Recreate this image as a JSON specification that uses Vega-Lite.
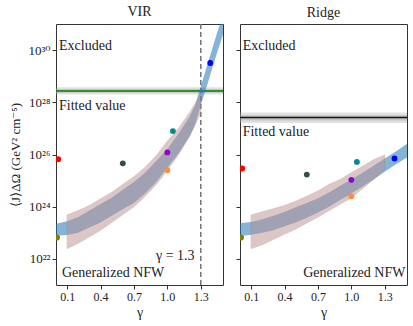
{
  "$schema": "https://vega.github.io/schema/vega-lite/v6.json",
  "padding": {"left": 9, "top": 4, "right": 3, "bottom": 4},
  "config": {
    "font": "Liberation Serif, DejaVu Serif, serif",
    "view": {"stroke": "#333", "strokeWidth": 1},
    "axis": {"grid": false, "domain": false, "tickColor": "#333", "tickSize": 4, "labelColor": "#222", "titleColor": "#222", "labelFontSize": 12, "titleFontSize": 13, "labelFont": "Liberation Serif, DejaVu Serif, serif", "titleFont": "Liberation Serif, DejaVu Serif, serif", "titleFontWeight": "normal", "labelPadding": 2},
    "title": {"font": "Liberation Serif, DejaVu Serif, serif", "fontSize": 14, "fontWeight": "normal", "offset": 4, "color": "#222"},
    "text": {"font": "Liberation Serif, DejaVu Serif, serif"},
    "concat": {"spacing": 10}
  },
  "datasets": {
    "bands": [
      {"panel": "VIR", "band": "blue", "gamma": 0.0, "lo": 7.9e22, "hi": 2.2e23},
      {"panel": "VIR", "band": "blue", "gamma": 0.1, "lo": 8.3e22, "hi": 2.8e23},
      {"panel": "VIR", "band": "blue", "gamma": 0.2, "lo": 1.0e23, "hi": 4.0e23},
      {"panel": "VIR", "band": "blue", "gamma": 0.3, "lo": 1.6e23, "hi": 7.1e23},
      {"panel": "VIR", "band": "blue", "gamma": 0.4, "lo": 2.5e23, "hi": 1.26e24},
      {"panel": "VIR", "band": "blue", "gamma": 0.5, "lo": 4.5e23, "hi": 2.2e24},
      {"panel": "VIR", "band": "blue", "gamma": 0.6, "lo": 7.9e23, "hi": 4.5e24},
      {"panel": "VIR", "band": "blue", "gamma": 0.7, "lo": 1.4e24, "hi": 8.9e24},
      {"panel": "VIR", "band": "blue", "gamma": 0.8, "lo": 3.2e24, "hi": 2.0e25},
      {"panel": "VIR", "band": "blue", "gamma": 0.9, "lo": 8.9e24, "hi": 5.6e25},
      {"panel": "VIR", "band": "blue", "gamma": 1.0, "lo": 3.2e25, "hi": 1.6e26},
      {"panel": "VIR", "band": "blue", "gamma": 1.1, "lo": 1.1e26, "hi": 6.3e26},
      {"panel": "VIR", "band": "blue", "gamma": 1.2, "lo": 5.0e26, "hi": 2.8e27},
      {"panel": "VIR", "band": "blue", "gamma": 1.25, "lo": 1.4e27, "hi": 7.9e27},
      {"panel": "VIR", "band": "blue", "gamma": 1.3, "lo": 7.9e27, "hi": 4.0e28},
      {"panel": "VIR", "band": "blue", "gamma": 1.35, "lo": 3.5e28, "hi": 2.0e29},
      {"panel": "VIR", "band": "blue", "gamma": 1.4, "lo": 1.8e29, "hi": 1.0e30},
      {"panel": "VIR", "band": "blue", "gamma": 1.45, "lo": 8.9e29, "hi": 5.0e30},
      {"panel": "VIR", "band": "blue", "gamma": 1.5, "lo": 4.0e30, "hi": 2.2e31},
      {"panel": "VIR", "band": "pink", "gamma": 0.1, "lo": 2.5e22, "hi": 4.8e23},
      {"panel": "VIR", "band": "pink", "gamma": 0.2, "lo": 4.0e22, "hi": 7.1e23},
      {"panel": "VIR", "band": "pink", "gamma": 0.3, "lo": 7.1e22, "hi": 1.1e24},
      {"panel": "VIR", "band": "pink", "gamma": 0.4, "lo": 1.26e23, "hi": 2.0e24},
      {"panel": "VIR", "band": "pink", "gamma": 0.5, "lo": 2.5e23, "hi": 3.5e24},
      {"panel": "VIR", "band": "pink", "gamma": 0.6, "lo": 5.0e23, "hi": 7.1e24},
      {"panel": "VIR", "band": "pink", "gamma": 0.7, "lo": 1.0e24, "hi": 1.4e25},
      {"panel": "VIR", "band": "pink", "gamma": 0.8, "lo": 2.5e24, "hi": 3.2e25},
      {"panel": "VIR", "band": "pink", "gamma": 0.9, "lo": 7.1e24, "hi": 8.9e25},
      {"panel": "VIR", "band": "pink", "gamma": 1.0, "lo": 2.5e25, "hi": 3.2e26},
      {"panel": "VIR", "band": "pink", "gamma": 1.1, "lo": 1.0e26, "hi": 1.0e27},
      {"panel": "VIR", "band": "pink", "gamma": 1.2, "lo": 5.0e26, "hi": 4.0e27},
      {"panel": "VIR", "band": "pink", "gamma": 1.3, "lo": 4.0e27, "hi": 2.0e28},
      {"panel": "Ridge", "band": "blue", "gamma": 0.0, "lo": 7.6e22, "hi": 2.3e23},
      {"panel": "Ridge", "band": "blue", "gamma": 0.1, "lo": 8.5e22, "hi": 2.6e23},
      {"panel": "Ridge", "band": "blue", "gamma": 0.2, "lo": 1.0e23, "hi": 3.3e23},
      {"panel": "Ridge", "band": "blue", "gamma": 0.3, "lo": 1.26e23, "hi": 4.5e23},
      {"panel": "Ridge", "band": "blue", "gamma": 0.4, "lo": 1.8e23, "hi": 6.3e23},
      {"panel": "Ridge", "band": "blue", "gamma": 0.5, "lo": 2.5e23, "hi": 9.5e23},
      {"panel": "Ridge", "band": "blue", "gamma": 0.6, "lo": 3.8e23, "hi": 1.4e24},
      {"panel": "Ridge", "band": "blue", "gamma": 0.7, "lo": 6.0e23, "hi": 2.1e24},
      {"panel": "Ridge", "band": "blue", "gamma": 0.8, "lo": 1.0e24, "hi": 3.5e24},
      {"panel": "Ridge", "band": "blue", "gamma": 0.9, "lo": 1.8e24, "hi": 6.3e24},
      {"panel": "Ridge", "band": "blue", "gamma": 1.0, "lo": 3.2e24, "hi": 1.1e25},
      {"panel": "Ridge", "band": "blue", "gamma": 1.1, "lo": 5.9e24, "hi": 2.0e25},
      {"panel": "Ridge", "band": "blue", "gamma": 1.2, "lo": 1.1e25, "hi": 3.7e25},
      {"panel": "Ridge", "band": "blue", "gamma": 1.3, "lo": 2.2e25, "hi": 7.1e25},
      {"panel": "Ridge", "band": "blue", "gamma": 1.4, "lo": 4.2e25, "hi": 1.3e26},
      {"panel": "Ridge", "band": "blue", "gamma": 1.5, "lo": 7.6e25, "hi": 2.6e26},
      {"panel": "Ridge", "band": "pink", "gamma": 0.1, "lo": 2.5e22, "hi": 4.8e23},
      {"panel": "Ridge", "band": "pink", "gamma": 0.2, "lo": 3.5e22, "hi": 6.3e23},
      {"panel": "Ridge", "band": "pink", "gamma": 0.3, "lo": 5.6e22, "hi": 8.3e23},
      {"panel": "Ridge", "band": "pink", "gamma": 0.4, "lo": 8.9e22, "hi": 1.1e24},
      {"panel": "Ridge", "band": "pink", "gamma": 0.5, "lo": 1.4e23, "hi": 1.6e24},
      {"panel": "Ridge", "band": "pink", "gamma": 0.6, "lo": 2.4e23, "hi": 2.5e24},
      {"panel": "Ridge", "band": "pink", "gamma": 0.7, "lo": 4.0e23, "hi": 4.0e24},
      {"panel": "Ridge", "band": "pink", "gamma": 0.8, "lo": 7.1e23, "hi": 7.1e24},
      {"panel": "Ridge", "band": "pink", "gamma": 0.9, "lo": 1.26e24, "hi": 1.1e25},
      {"panel": "Ridge", "band": "pink", "gamma": 1.0, "lo": 2.2e24, "hi": 2.0e25},
      {"panel": "Ridge", "band": "pink", "gamma": 1.1, "lo": 5.0e24, "hi": 3.5e25},
      {"panel": "Ridge", "band": "pink", "gamma": 1.2, "lo": 1.1e25, "hi": 6.3e25},
      {"panel": "Ridge", "band": "pink", "gamma": 1.3, "lo": 2.8e25, "hi": 9.5e25}
    ],
    "points": [
      {"panel": "VIR", "source": "red", "gamma": 0.02, "J": 6.6e25},
      {"panel": "VIR", "source": "olive", "gamma": 0.01, "J": 6.6e22},
      {"panel": "VIR", "source": "slate", "gamma": 0.6, "J": 4.6e25},
      {"panel": "VIR", "source": "teal", "gamma": 1.05, "J": 7.9e26},
      {"panel": "VIR", "source": "violet", "gamma": 1.0, "J": 1.2e26},
      {"panel": "VIR", "source": "orange", "gamma": 1.0, "J": 2.5e25},
      {"panel": "VIR", "source": "blue", "gamma": 1.385, "J": 3.2e29},
      {"panel": "Ridge", "source": "red", "gamma": 0.02, "J": 2.9e25},
      {"panel": "Ridge", "source": "olive", "gamma": 0.01, "J": 6.6e22},
      {"panel": "Ridge", "source": "slate", "gamma": 0.6, "J": 1.7e25},
      {"panel": "Ridge", "source": "teal", "gamma": 1.05, "J": 5.2e25},
      {"panel": "Ridge", "source": "violet", "gamma": 1.0, "J": 1.07e25},
      {"panel": "Ridge", "source": "orange", "gamma": 1.0, "J": 2.5e24},
      {"panel": "Ridge", "source": "blue", "gamma": 1.388, "J": 7.1e25}
    ],
    "fit": [
      {"panel": "VIR", "J": 2.7e28, "in_lo": 2.3e28, "in_hi": 3.2e28, "out_lo": 2.0e28, "out_hi": 3.8e28},
      {"panel": "Ridge", "J": 2.6e27, "in_lo": 2.0e27, "in_hi": 3.2e27, "out_lo": 1.6e27, "out_hi": 4.1e27}
    ],
    "labels": [
      {"panel": "VIR", "text": "Excluded", "gamma": 0.027, "J": 1.4e30},
      {"panel": "VIR", "text": "Fitted value", "gamma": 0.027, "J": 7.0e27},
      {"panel": "VIR", "text": "Generalized NFW", "gamma": 0.054, "J": 2.8e21},
      {"panel": "VIR", "text": "γ = 1.3", "gamma": 1.245, "J": 1.3e22},
      {"panel": "Ridge", "text": "Excluded", "gamma": 0.024, "J": 1.4e30},
      {"panel": "Ridge", "text": "Fitted value", "gamma": 0.024, "J": 7.4e26},
      {"panel": "Ridge", "text": "Generalized NFW", "gamma": 1.486, "J": 2.8e21}
    ]
  },
  "hconcat": [
    {
      "title": "VIR",
      "width": 167,
      "height": 261,
      "layer": [
        {
          "data": {"name": "fit"},
          "transform": [{"filter": "datum.panel === 'VIR'"}],
          "mark": {"type": "rect", "color": "#aaaaaa", "opacity": 0.35},
          "encoding": {
            "y": {"field": "out_lo", "type": "quantitative",
              "scale": {"type": "log", "domain": [1e21, 1e31], "nice": false},
              "axis": {"values": [1e22, 1e24, 1e26, 1e28, 1e30], "title": "⟨J⟩ΔΩ (GeV² cm⁻⁵)", "titlePadding": 5, "labelFontSize": 13,
                "labelExpr": "datum.value > 1e29 ? '10³⁰' : datum.value > 1e27 ? '10²⁸' : datum.value > 1e25 ? '10²⁶' : datum.value > 1e23 ? '10²⁴' : '10²²'"}},
            "y2": {"field": "out_hi"}
          }
        },
        {
          "data": {"name": "fit"},
          "transform": [{"filter": "datum.panel === 'VIR'"}],
          "mark": {"type": "rect", "color": "#999999", "opacity": 0.4},
          "encoding": {"y": {"field": "in_lo", "type": "quantitative"}, "y2": {"field": "in_hi"}}
        },
        {
          "data": {"name": "fit"},
          "transform": [{"filter": "datum.panel === 'VIR'"}],
          "mark": {"type": "rule", "color": "#008000", "strokeWidth": 1.5},
          "encoding": {"y": {"field": "J", "type": "quantitative"}}
        },
        {
          "data": {"name": "fit"},
          "mark": {"type": "rule", "color": "#777777", "strokeWidth": 1.2, "strokeDash": [5, 3]},
          "encoding": {"x": {"datum": 1.3, "type": "quantitative"}}
        },
        {
          "data": {"name": "bands"},
          "transform": [{"filter": "datum.panel === 'VIR' && datum.band === 'blue'"}],
          "mark": {"type": "area", "color": "#1f77b4", "opacity": 0.55, "clip": true},
          "encoding": {
            "x": {"field": "gamma", "type": "quantitative",
              "scale": {"domain": [0, 1.5], "nice": false, "zero": false},
              "axis": {"values": [0.1, 0.4, 0.7, 1.0, 1.3], "format": ".1f", "title": "γ", "titleFontSize": 14, "titlePadding": 3}},
            "y": {"field": "lo", "type": "quantitative"},
            "y2": {"field": "hi"}
          }
        },
        {
          "data": {"name": "bands"},
          "transform": [{"filter": "datum.panel === 'VIR' && datum.band === 'pink'"}],
          "mark": {"type": "area", "color": "#bc8f8f", "opacity": 0.5, "clip": true, "stroke": "#b07f7f", "strokeWidth": 0.8},
          "encoding": {
            "x": {"field": "gamma", "type": "quantitative"},
            "y": {"field": "lo", "type": "quantitative"},
            "y2": {"field": "hi"}
          }
        },
        {
          "data": {"name": "points"},
          "transform": [{"filter": "datum.panel === 'VIR'"}],
          "mark": {"type": "circle", "size": 34, "opacity": 1, "clip": true},
          "encoding": {
            "x": {"field": "gamma", "type": "quantitative"},
            "y": {"field": "J", "type": "quantitative"},
            "color": {"field": "source", "type": "nominal", "legend": null,
              "scale": {"domain": ["red", "olive", "slate", "teal", "violet", "orange", "blue"],
                "range": ["#ff0000", "#808000", "#2f4f4f", "#008b8b", "#9400d3", "#ff8c42", "#0000ff"]}}
          }
        },
        {
          "data": {"name": "labels"},
          "transform": [{"filter": "datum.panel === 'VIR' && datum.gamma < 0.5"}],
          "mark": {"type": "text", "align": "left", "baseline": "middle", "fontSize": 14, "color": "#222", "font": "Liberation Serif, DejaVu Serif, serif"},
          "encoding": {
            "x": {"field": "gamma", "type": "quantitative"},
            "y": {"field": "J", "type": "quantitative"},
            "text": {"field": "text"}
          }
        },
        {
          "data": {"name": "labels"},
          "transform": [{"filter": "datum.panel === 'VIR' && datum.gamma >= 0.5"}],
          "mark": {"type": "text", "align": "right", "baseline": "middle", "fontSize": 14, "color": "#222", "font": "Liberation Serif, DejaVu Serif, serif"},
          "encoding": {
            "x": {"field": "gamma", "type": "quantitative"},
            "y": {"field": "J", "type": "quantitative"},
            "text": {"field": "text"}
          }
        }
      ]
    },
    {
      "title": "Ridge",
      "width": 167,
      "height": 261,
      "layer": [
        {
          "data": {"name": "fit"},
          "transform": [{"filter": "datum.panel === 'Ridge'"}],
          "mark": {"type": "rect", "color": "#aaaaaa", "opacity": 0.35},
          "encoding": {
            "y": {"field": "out_lo", "type": "quantitative",
              "scale": {"type": "log", "domain": [1e21, 1e31], "nice": false},
              "axis": {"values": [1e22, 1e24, 1e26, 1e28, 1e30], "labels": false, "title": null}},
            "y2": {"field": "out_hi"}
          }
        },
        {
          "data": {"name": "fit"},
          "transform": [{"filter": "datum.panel === 'Ridge'"}],
          "mark": {"type": "rect", "color": "#999999", "opacity": 0.4},
          "encoding": {"y": {"field": "in_lo", "type": "quantitative"}, "y2": {"field": "in_hi"}}
        },
        {
          "data": {"name": "fit"},
          "transform": [{"filter": "datum.panel === 'Ridge'"}],
          "mark": {"type": "rule", "color": "#111111", "strokeWidth": 1.5},
          "encoding": {"y": {"field": "J", "type": "quantitative"}}
        },
        {
          "data": {"name": "bands"},
          "transform": [{"filter": "datum.panel === 'Ridge' && datum.band === 'blue'"}],
          "mark": {"type": "area", "color": "#1f77b4", "opacity": 0.55, "clip": true},
          "encoding": {
            "x": {"field": "gamma", "type": "quantitative",
              "scale": {"domain": [0, 1.5], "nice": false, "zero": false},
              "axis": {"values": [0.1, 0.4, 0.7, 1.0, 1.3], "format": ".1f", "title": "γ", "titleFontSize": 14, "titlePadding": 3}},
            "y": {"field": "lo", "type": "quantitative"},
            "y2": {"field": "hi"}
          }
        },
        {
          "data": {"name": "bands"},
          "transform": [{"filter": "datum.panel === 'Ridge' && datum.band === 'pink'"}],
          "mark": {"type": "area", "color": "#bc8f8f", "opacity": 0.5, "clip": true, "stroke": "#b07f7f", "strokeWidth": 0.8},
          "encoding": {
            "x": {"field": "gamma", "type": "quantitative"},
            "y": {"field": "lo", "type": "quantitative"},
            "y2": {"field": "hi"}
          }
        },
        {
          "data": {"name": "points"},
          "transform": [{"filter": "datum.panel === 'Ridge'"}],
          "mark": {"type": "circle", "size": 34, "opacity": 1, "clip": true},
          "encoding": {
            "x": {"field": "gamma", "type": "quantitative"},
            "y": {"field": "J", "type": "quantitative"},
            "color": {"field": "source", "type": "nominal", "legend": null,
              "scale": {"domain": ["red", "olive", "slate", "teal", "violet", "orange", "blue"],
                "range": ["#ff0000", "#808000", "#2f4f4f", "#008b8b", "#9400d3", "#ff8c42", "#0000ff"]}}
          }
        },
        {
          "data": {"name": "labels"},
          "transform": [{"filter": "datum.panel === 'Ridge' && datum.gamma < 0.5"}],
          "mark": {"type": "text", "align": "left", "baseline": "middle", "fontSize": 14, "color": "#222", "font": "Liberation Serif, DejaVu Serif, serif"},
          "encoding": {
            "x": {"field": "gamma", "type": "quantitative"},
            "y": {"field": "J", "type": "quantitative"},
            "text": {"field": "text"}
          }
        },
        {
          "data": {"name": "labels"},
          "transform": [{"filter": "datum.panel === 'Ridge' && datum.gamma >= 0.5"}],
          "mark": {"type": "text", "align": "right", "baseline": "middle", "fontSize": 14, "color": "#222", "font": "Liberation Serif, DejaVu Serif, serif"},
          "encoding": {
            "x": {"field": "gamma", "type": "quantitative"},
            "y": {"field": "J", "type": "quantitative"},
            "text": {"field": "text"}
          }
        }
      ]
    }
  ]
}
